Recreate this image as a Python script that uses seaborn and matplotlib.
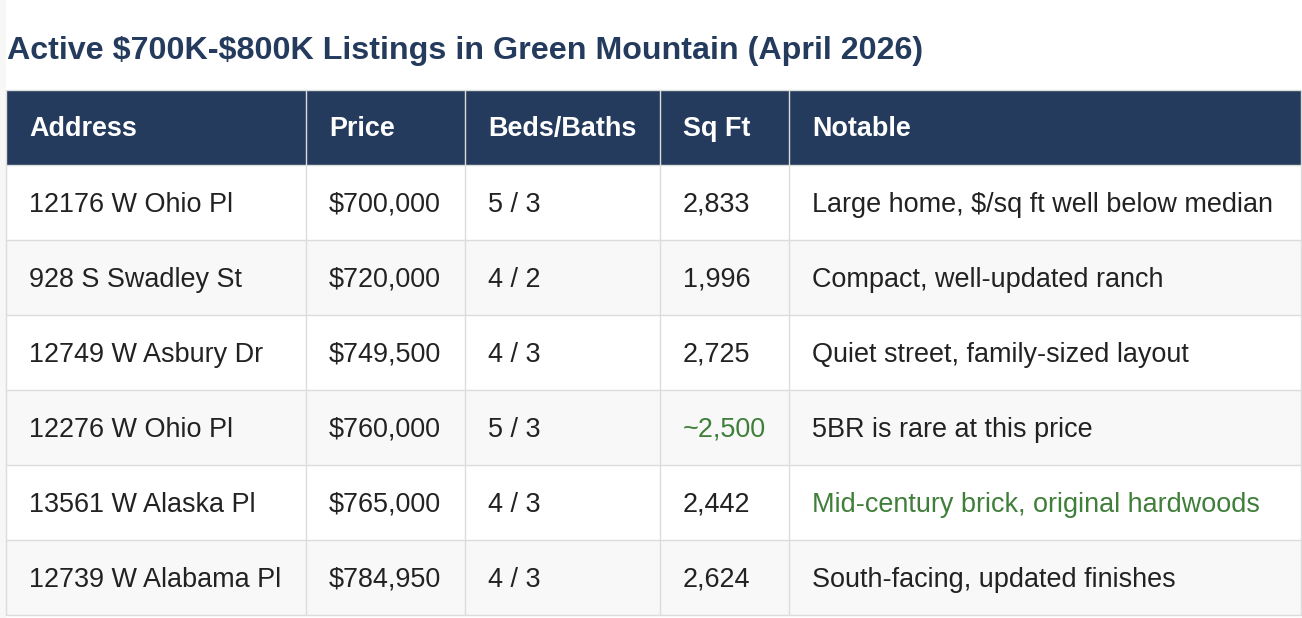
import matplotlib
matplotlib.use("Agg")
import matplotlib.pyplot as plt
from matplotlib.patches import Rectangle
import seaborn as sns

# ---- data ----
title = "Active $700K-$800K Listings in Green Mountain (April 2026)"
columns = ["Address", "Price", "Beds/Baths", "Sq Ft", "Notable"]
addresses = ["12176 W Ohio Pl", "928 S Swadley St", "12749 W Asbury Dr",
             "12276 W Ohio Pl", "13561 W Alaska Pl", "12739 W Alabama Pl"]
prices = ["$700,000", "$720,000", "$749,500", "$760,000", "$765,000", "$784,950"]
beds_baths = ["5 / 3", "4 / 2", "4 / 3", "5 / 3", "4 / 3", "4 / 3"]
sqft = ["2,833", "1,996", "2,725", "~2,500", "2,442", "2,624"]
notable = ["Large home, $/sq ft well below median",
           "Compact, well-updated ranch",
           "Quiet street, family-sized layout",
           "5BR is rare at this price",
           "Mid-century brick, original hardwoods",
           "South-facing, updated finishes"]
# highlighted cells (row index, column index)
highlights = [(3, 3), (4, 4)]

# ---- style ----
sns.set_theme(style="white")
plt.rcParams["font.family"] = ["Liberation Sans", "DejaVu Sans"]
plt.rcParams["text.parse_math"] = False

NAVY = "#243b5e"
GRID = "#dcdcdc"
STRIPE = "#f8f8f8"
TEXT = "#222222"
GREEN = "#3f7f3a"

W, H = 1302, 618
fig = plt.figure(figsize=(W / 100, H / 100), dpi=100)
ax = fig.add_axes([0, 0, 1, 1])
ax.set_xlim(0, W)
ax.set_ylim(H, 0)
ax.axis("off")

col_edges = [6, 306, 465, 660, 789, 1301]
top = 89.5
header_h = 75.5
row_h = 75.0
pad = 23
fs = 19.45

# faint page margin strip on the left
ax.add_patch(Rectangle((0, 0), 5.5, H, facecolor="#f7f7f5", edgecolor="none"))

ax.text(7, 59.5, title, fontsize=23.2, fontweight="bold", color=NAVY,
        ha="left", va="baseline")

# header
ax.add_patch(Rectangle((col_edges[0], top), col_edges[-1] - col_edges[0], header_h,
                       facecolor=NAVY, edgecolor="none"))
for j, name in enumerate(columns):
    ax.text(col_edges[j] + pad, top + header_h / 2 + 9, name, fontsize=fs,
            fontweight="bold", color="white", ha="left", va="baseline")

rows = list(zip(addresses, prices, beds_baths, sqft, notable))
for i, row in enumerate(rows):
    y0 = top + header_h + i * row_h
    bg = STRIPE if i % 2 == 1 else "white"
    ax.add_patch(Rectangle((col_edges[0], y0), col_edges[-1] - col_edges[0], row_h,
                           facecolor=bg, edgecolor="none"))
    for j, val in enumerate(row):
        color = GREEN if (i, j) in highlights else TEXT
        ax.text(col_edges[j] + pad, y0 + row_h / 2 + 9.2, val, fontsize=fs,
                color=color, ha="left", va="baseline")

bottom = top + header_h + len(rows) * row_h
# grid lines
lw = 1.0
for x in col_edges:
    ax.plot([x, x], [top, bottom], color=GRID, lw=lw, solid_capstyle="butt")
ax.plot([col_edges[0], col_edges[-1]], [top, top], color=GRID, lw=lw)
for i in range(len(rows) + 1):
    y = top + header_h + i * row_h
    ax.plot([col_edges[0], col_edges[-1]], [y, y], color=GRID, lw=lw)

fig.savefig("out.png", dpi=100, facecolor="white")
